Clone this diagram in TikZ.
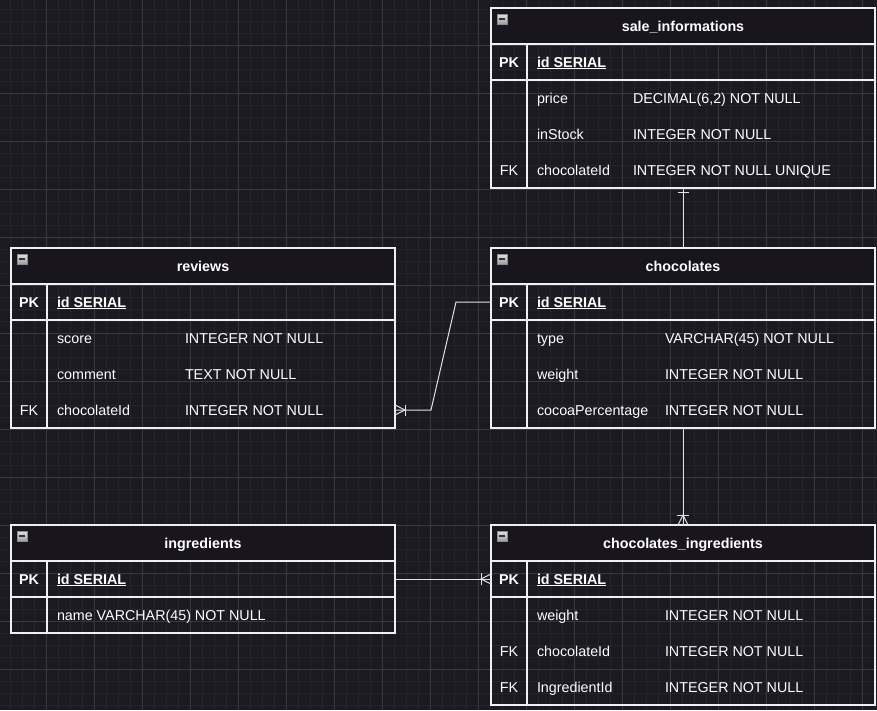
\documentclass[tikz,border=0pt]{standalone}
\usepackage{fontspec}
\setmainfont{Liberation Sans}
\usetikzlibrary{calc}
\definecolor{bg}{HTML}{1B1921}
\definecolor{hdrfill}{HTML}{18151E}
\definecolor{gmin}{HTML}{26232B}
\definecolor{gmaj}{HTML}{3B383F}
\definecolor{tline}{HTML}{F0F0F0}
\definecolor{cline}{HTML}{E2E2E2}
\tikzset{
  tbl/.style={draw=tline, line width=1.3pt, minimum width=384pt, inner sep=0pt, outer sep=0pt, anchor=north west},
  hdr/.style={tbl, fill=hdrfill, minimum height=36pt},
  rowb/.style={minimum width=384pt, minimum height=36pt, inner sep=0pt, outer sep=0pt, anchor=north west},
  sep/.style={draw=tline, line width=1.3pt},
  txt/.style={text=white, inner sep=0pt, outer sep=0pt, font=\fontsize{14.3}{16}\selectfont},
  bold/.style={font=\fontsize{14.3}{16}\selectfont\bfseries},
  ttl/.style={txt, bold, anchor=base},
  fld/.style={txt, anchor=base west},
  keyl/.style={txt, anchor=base},
  ul/.style={draw=white, line width=1pt},
  conn/.style={draw=cline, line width=1pt},
  icon/.style={draw=black!45, line width=0.6pt, top color=black!12, bottom color=black!38,
    minimum width=10pt, minimum height=10pt, inner sep=0pt, outer sep=0pt},
  iconbar/.style={draw=black!80, line width=1.6pt},
  gminor/.style={draw=gmin, line width=1pt},
  gmajor/.style={draw=gmaj, line width=1pt}
}
% #1 id, #2 x, #3 y, #4 number of rows, #5 title
\newcommand\ertable[5]{%
  \node[tbl, minimum height={36*(#4+1)}] (#1) at (#2,#3) {};
  \node[hdr] (#1-h) at (#2,#3) {};
  \node[ttl] (#1-t) at ($(#1-h.center)+(0,5)$) {#5};
  \node[icon] (#1-i) at ($(#1-h.north west)+(11,11)$) {};
  \draw[iconbar] ($(#1-i.center)+(-3,0)$) -- ($(#1-i.center)+(3,0)$);
  \foreach \k in {1,...,#4} {\node[rowb] (#1-\k) at (#2,{#3+36*\k}) {};}
  \draw[sep] (#1-1.south west) -- (#1-1.south east);
  \draw[sep] ($(#1-1.north west)+(36,0)$) -- ($(#1.south west)+(36,0)$);
  \node[keyl, bold] (#1-pk) at ($(#1-1.west)+(18,5)$) {PK};
  \node[fld, bold] (#1-id) at ($(#1-1.west)+(46,5)$) {id SERIAL};
  \draw[ul] ($(#1-id.base west)+(0,1.8)$) -- ($(#1-id.base east)+(0,1.8)$);
}
% #1 id, #2 row, #3 name, #4 type offset, #5 type
\newcommand\field[5]{%
  \node[fld] (#1-#2-n) at ($(#1-#2.west)+(46,5)$) {#3};
  \node[fld] (#1-#2-t) at ($(#1-#2.west)+(#4,5)$) {#5};
}
\newcommand\fk[2]{\node[keyl] (#1-#2-k) at ($(#1-#2.west)+(18,5)$) {FK};}
\begin{document}
\begin{tikzpicture}[x=1pt, y=-1pt]
\useasboundingbox (0,0) rectangle (877,710);
\fill[bg] (0,0) rectangle (877,710);
% grid
\foreach \gx in {10,22,...,874} \draw[gminor] (\gx,0) -- (\gx,710);
\foreach \gy in {9,21,...,705} \draw[gminor] (0,\gy) -- (877,\gy);
\foreach \gx in {46,94,...,862} \draw[gmajor] (\gx,0) -- (\gx,710);
\foreach \gy in {45,93,...,669} \draw[gmajor] (0,\gy) -- (877,\gy);

% tables
\ertable{sale}{491}{8}{4}{sale\_informations}
\field{sale}{2}{price}{142}{DECIMAL(6,2) NOT NULL}
\field{sale}{3}{inStock}{142}{INTEGER NOT NULL}
\field{sale}{4}{chocolateId}{142}{INTEGER NOT NULL UNIQUE}
\fk{sale}{4}

\ertable{choc}{491}{248}{4}{chocolates}
\field{choc}{2}{type}{174}{VARCHAR(45) NOT NULL}
\field{choc}{3}{weight}{174}{INTEGER NOT NULL}
\field{choc}{4}{cocoaPercentage}{174}{INTEGER NOT NULL}

\ertable{rev}{11}{248}{4}{reviews}
\field{rev}{2}{score}{174}{INTEGER NOT NULL}
\field{rev}{3}{comment}{174}{TEXT NOT NULL}
\field{rev}{4}{chocolateId}{174}{INTEGER NOT NULL}
\fk{rev}{4}

\ertable{ingr}{11}{525}{2}{ingredients}
\node[fld] (ingr-2-n) at ($(ingr-2.west)+(46,5)$) {name VARCHAR(45) NOT NULL};

\ertable{ci}{491}{525}{4}{chocolates\_ingredients}
\field{ci}{2}{weight}{174}{INTEGER NOT NULL}
\field{ci}{3}{chocolateId}{174}{INTEGER NOT NULL}
\field{ci}{4}{IngredientId}{174}{INTEGER NOT NULL}
\fk{ci}{3}
\fk{ci}{4}

% connectors
\draw[conn] (sale.south) -- (choc.north);
\draw[conn] ($(sale.south)+(-5.5,4)$) -- ($(sale.south)+(5.5,4)$);

\draw[conn] (choc-1.west) -- ++(-35,0) -- ($(rev-4.east)+(36,0)$) -- (rev-4.east);
\draw[conn] ($(rev-4.east)+(0,-5)$) -- ($(rev-4.east)+(10,0)$) -- ($(rev-4.east)+(0,5)$);
\draw[conn] ($(rev-4.east)+(10,-5.5)$) -- ($(rev-4.east)+(10,5.5)$);

\draw[conn] (choc.south) -- (ci.north);
\draw[conn] ($(ci.north)+(-5,0)$) -- ($(ci.north)+(0,-10)$) -- ($(ci.north)+(5,0)$);
\draw[conn] ($(ci.north)+(-6,-10)$) -- ($(ci.north)+(6,-10)$);

\draw[conn] (ingr-1.east) -- (ci-1.west);
\draw[conn] ($(ci-1.west)+(0,-5)$) -- ($(ci-1.west)+(-10,0)$) -- ($(ci-1.west)+(0,5)$);
\draw[conn] ($(ci-1.west)+(-10,-6)$) -- ($(ci-1.west)+(-10,6)$);
\end{tikzpicture}
\end{document}
